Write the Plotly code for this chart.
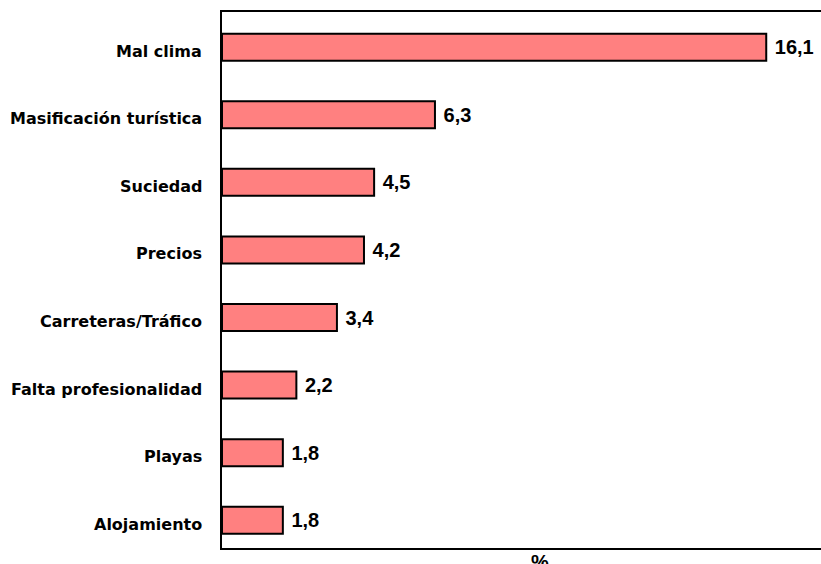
import plotly.graph_objects as go

categories = ["Mal clima", "Masificación turística", "Suciedad", "Precios",
              "Carreteras/Tráfico", "Falta profesionalidad", "Playas", "Alojamiento"]
values = [16.1, 6.3, 4.5, 4.2, 3.4, 2.2, 1.8, 1.8]

fig = go.Figure(go.Bar(
    x=values, y=categories, orientation="h",
    marker=dict(color="#FF8080", line=dict(color="black", width=2)),
    width=0.4,
    texttemplate=" %{x:.1f}", textposition="outside", cliponaxis=False,
    textfont=dict(family="Liberation Sans, Arial", size=20, color="black", weight="bold"),
))

fig.update_layout(
    width=821, height=564,
    margin=dict(l=222, r=0, t=12, b=16),
    plot_bgcolor="white", paper_bgcolor="white",
    separators=",.",
    showlegend=False,
    xaxis=dict(range=[0, 17.72], showgrid=False, zeroline=False, showticklabels=False,
               ticks="", showline=True, linecolor="black", linewidth=2, mirror=True),
    yaxis=dict(type="category", range=[7.41, -0.52], showgrid=False, zeroline=False,
               ticks="", showline=True, linecolor="black", linewidth=2,
               showticklabels=False),
)
for cat in categories:
    fig.add_annotation(text=cat, xref="paper", yref="y", x=0, y=cat,
                       xanchor="right", xshift=-18, yshift=-4, showarrow=False,
                       font=dict(family="DejaVu Sans", size=16, color="black", weight="bold"))
fig.add_annotation(text="%", xref="paper", yref="paper",
                   x=(540 - 222) / (821 - 222), y=0, yanchor="top", yshift=-1,
                   showarrow=False,
                   font=dict(family="Liberation Sans, Arial", size=20, color="black", weight="bold"))

fig.write_html("out.html", post_script="document.body.style.margin='0';",
               config={"displayModeBar": False})
